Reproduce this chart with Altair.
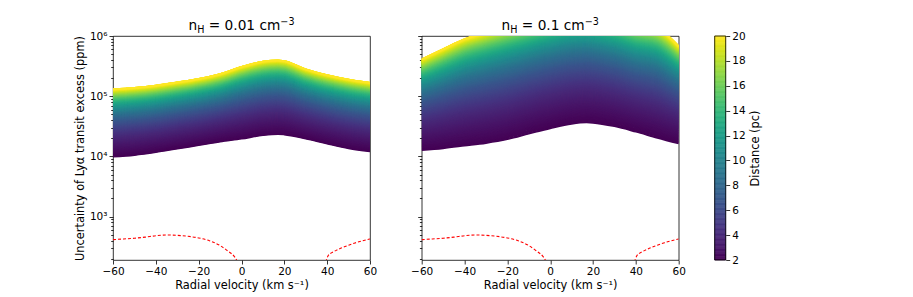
import altair as alt
import numpy as np
import pandas as pd

# ---------------- data ----------------
velocity = [-60, -50, -40, -30, -20, -10, 0, 10, 17, 20, 30, 40, 50, 60]

# n_H = 0.01 cm^-3 : nearest (2 pc) and farthest (20 pc) curves
low_001 = [9840, 10500, 11700, 13400, 15300, 17500, 19600, 22400, 23400, 23000, 19600, 16200, 13600, 12100]
up_001 = [130600, 138400, 151000, 170700, 195000, 234000, 308000, 378000, 395000, 385000, 281000, 225000, 190000, 168000]

# n_H = 0.1 cm^-3
low_01 = [12700, 13600, 15000, 16600, 19200, 23700, 29200, 34700, 36500, 36100, 31600, 25600, 20300, 16400]
up_01 = [411000, 608000, 891000, 1150000, 1450000, 1800000, 2200000, 2550000, 2600000, 2500000, 2100000, 1600000, 1350000, 680000]

distances = np.linspace(2, 20, 501)

# red dashed reference curve (same in both panels), two branches
red_v_left = [-60, -55, -50, -45, -40, -35, -30, -25, -20, -15, -10, -6, -3.5, -2.3, -1.8]
red_y_left = [414, 425, 437, 455, 480, 495, 488, 470, 442, 398, 330, 262, 220, 190, 170]
red_v_right = [39.3, 40.5, 42, 44, 47, 50, 53, 56, 60]
red_y_right = [175, 225, 250, 272, 305, 335, 365, 392, 425]

x_ticks = [-60, -40, -20, 0, 20, 40, 60]
y_ticks = [m * 10 ** e for e in range(2, 6) for m in range(1, 10) if m * 10 ** e >= 200] + [1000000]
cb_ticks = [2, 4, 6, 8, 10, 12, 14, 16, 18, 20]
cb_edges = np.linspace(2, 20, 181)

titles = {
    "p1": ("n", "H", "= 0.01 cm", "\u22123"),
    "p2": ("n", "H", "= 0.1 cm", "\u22123"),
}

# ---------------- build tables ----------------
def band_table(low, up):
    rows = []
    low = np.array(low, float)
    up = np.array(up, float)
    for d in distances:
        frac = np.log10(d / 2.0)
        ys = low * (up / low) ** frac
        for v, y in zip(velocity, ys):
            rows.append({"v": v, "y": float(y), "d": float(d)})
    return pd.DataFrame(rows)

red_df = pd.DataFrame(
    [{"v": v, "y": y, "seg": "a"} for v, y in zip(red_v_left, red_y_left)]
    + [{"v": v, "y": y, "seg": "b"} for v, y in zip(red_v_right, red_y_right)]
)

cb_df = pd.DataFrame({
    "d0": cb_edges[:-1],
    "d1": cb_edges[1:],
    "dm": (cb_edges[:-1] + cb_edges[1:]) / 2,
})

W, H = 257, 224
CB_GAP, CB_W = 36, 11
FONT = "DejaVu Sans"
TITLE_FS = 13.7
SUB_FS = 9.6
LABEL_FS = 10.5
AXT_FS = 11.4

xscale = alt.Scale(domain=[-60, 60], nice=False, zero=False)
yscale = alt.Scale(type="log", domain=[190, 1000000], nice=False)
viridis = alt.Scale(scheme="viridis", domain=[2, 20])

y_label_expr = (
    "datum.value == 1000 ? '10\u00b3' : datum.value == 10000 ? '10\u2074' : "
    "datum.value == 100000 ? '10\u2075' : datum.value == 1000000 ? '10\u2076' : ''"
)
major_test = "indexof([1000, 10000, 100000, 1000000], datum.value) >= 0"


def x_axis():
    return alt.Axis(
        values=x_ticks,
        title="Radial velocity (km s\u207b\u00b9)",
        labelExpr="datum.value < 0 ? '\u2212' + abs(datum.value) : '' + datum.value",
        labelFlush=False,
        tickSize=4,
        labelPadding=2,
        titlePadding=3,
    )


def y_axis(show_labels):
    kw = dict(
        values=y_ticks,
        tickSize={"condition": {"test": major_test, "value": 4}, "value": 2.3},
        labelOverlap=False,
    )
    if show_labels:
        return alt.Axis(
            title="Uncertainty of Ly\u03b1 transit excess (ppm)",
            labelExpr=y_label_expr,
            labelPadding=2,
            titlePadding=4,
            **kw,
        )
    return alt.Axis(title=None, labels=False, **kw)


def panel(low, up, pieces, first):
    df = band_table(low, up)
    lines = alt.Chart(df).mark_line(clip=True, strokeWidth=1.6, interpolate="monotone").encode(
        x=alt.X("v:Q", scale=xscale, axis=x_axis()),
        y=alt.Y("y:Q", scale=yscale, axis=y_axis(first)),
        color=alt.Color("d:Q", scale=viridis, legend=None),
        detail="d:Q",
        order="v:Q",
    )
    red = alt.Chart(red_df).mark_line(
        clip=True, color="red", strokeWidth=1.1, strokeDash=[3, 2], interpolate="monotone"
    ).encode(
        x=alt.X("v:Q", scale=xscale),
        y=alt.Y("y:Q", scale=yscale, axis=y_axis(first)),
        detail="seg:N",
    )
    # title pieces: n, subscript H, main text, superscript -3
    n_w = 0.634 * TITLE_FS
    h_w = 0.752 * SUB_FS
    sp_w = 0.318 * TITLE_FS
    main_em = {"= 0.01 cm": 5.224, "= 0.1 cm": 4.588}[pieces[2]]
    main_w = main_em * TITLE_FS
    sup_w = 1.474 * SUB_FS
    total = n_w + h_w + sp_w + main_w + sup_w
    x0 = W / 2 - total / 2
    base = -6
    one = pd.DataFrame({"k": [0]})
    specs = [
        (pieces[0], x0, base, TITLE_FS),
        (pieces[1], x0 + n_w, base + 3, SUB_FS),
        (pieces[2], x0 + n_w + h_w + sp_w, base, TITLE_FS),
        (pieces[3], x0 + n_w + h_w + sp_w + main_w, base - 5.5, SUB_FS),
    ]
    texts = [
        alt.Chart(one).mark_text(align="left", baseline="alphabetic", fontSize=fs, font=FONT, color="black")
        .encode(x=alt.value(xx), y=alt.value(yy), text=alt.value(t))
        for t, xx, yy, fs in specs
    ]
    return alt.layer(lines, red, *texts)


p1 = panel(low_001, up_001, titles["p1"], True).properties(width=W, height=H)

cb_scale = alt.Scale(domain=[2, 20], nice=False, zero=False)


def cb_axis():
    return alt.Axis(
        orient="right",
        offset=CB_GAP + CB_W,
        values=cb_ticks,
        title="Distance (pc)",
        titleAngle=270,
        titleBaseline="top",
        tickSize=4,
        labelPadding=2,
        titlePadding=4,
        labelOverlap=False,
    )


cbar = alt.Chart(cb_df).mark_rect(strokeWidth=0.6).encode(
    x=alt.value(W + CB_GAP),
    x2=alt.value(W + CB_GAP + CB_W),
    y=alt.Y("d0:Q", scale=cb_scale, axis=cb_axis()),
    y2="d1:Q",
    color=alt.Color("dm:Q", scale=viridis, legend=None),
    stroke=alt.Stroke("dm:Q", scale=viridis, legend=None),
)
cb_frame = alt.Chart(pd.DataFrame({"lo": [2], "hi": [20]})).mark_rect(
    fill=None, stroke="#000", strokeWidth=0.8
).encode(
    x=alt.value(W + CB_GAP),
    x2=alt.value(W + CB_GAP + CB_W),
    y=alt.Y("lo:Q", scale=cb_scale, axis=cb_axis()),
    y2="hi:Q",
)

p2 = alt.layer(
    panel(low_01, up_01, titles["p2"], False),
    alt.layer(cbar, cb_frame),
).resolve_scale(y="independent").resolve_axis(y="independent").properties(width=W, height=H)

chart = alt.hconcat(p1, p2, spacing=51.7, bounds="flush").properties(
    padding={"left": 66, "top": 8, "right": 5, "bottom": 5}
).configure(
    font=FONT,
).configure_view(
    stroke="#000", strokeWidth=0.8
).configure_axis(
    domain=False,
    grid=False,
    tickColor="#000",
    tickWidth=0.8,
    labelColor="#000",
    labelFont=FONT,
    labelFontSize=LABEL_FS,
    titleFont=FONT,
    titleFontSize=AXT_FS,
    titleFontWeight="normal",
    titleColor="#000",
)

chart.save("out.html", embed_options={"renderer": "svg", "actions": False})
